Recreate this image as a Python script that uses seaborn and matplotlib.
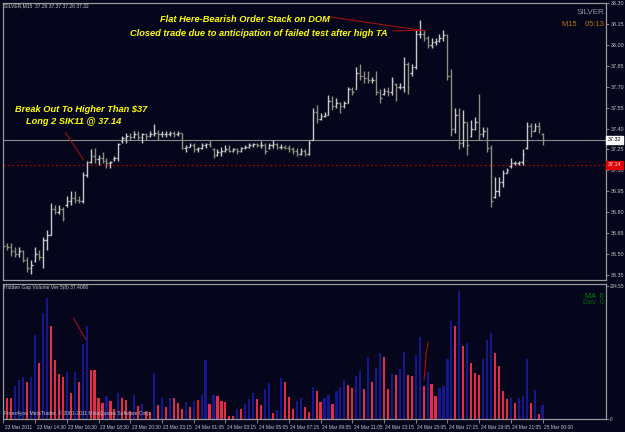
import matplotlib
matplotlib.use("Agg")
import matplotlib.pyplot as plt
import matplotlib.transforms as mtransforms
import numpy as np
import pandas as pd
import seaborn as sns

# ---------------- data ----------------
highs = [36.60,36.58,36.58,36.55,36.55,36.53,36.48,36.46,36.55,36.53,
         36.62,36.67,36.87,36.85,36.85,36.84,36.92,36.95,36.95,36.92,
         37.09,37.17,37.25,37.26,37.21,37.23,37.19,37.17,37.20,37.30,
         37.35,37.37,37.37,37.38,37.38,37.37,37.37,37.38,37.43,37.39,
         37.38,37.38,37.38,37.38,37.38,37.37,37.28,37.30,37.30,37.27,
         37.30,37.30,37.32,37.26,37.25,37.27,37.28,37.28,37.26,37.26,
         37.27,37.28,37.30,37.30,37.30,37.31,37.30,37.30,37.32,37.30,
         37.29,37.28,37.28,37.27,37.26,37.26,37.25,37.32,37.55,37.57,
         37.51,37.52,37.64,37.63,37.62,37.59,37.60,37.70,37.70,37.84,
         37.86,37.81,37.81,37.77,37.81,37.68,37.69,37.70,37.77,37.73,
         37.73,37.91,37.88,37.86,38.11,38.18,38.11,38.06,38.05,38.05,
         38.08,38.11,38.08,37.83,37.55,37.55,37.53,37.45,37.46,37.48,
         37.65,37.41,37.41,37.28,37.05,37.05,37.10,37.12,37.19,37.17,
         37.17,37.25,37.45,37.44,37.44,37.45,37.37]
lows = [36.55,36.53,36.49,36.48,36.48,36.44,36.37,36.36,36.44,36.46,
        36.40,36.53,36.64,36.79,36.79,36.74,36.84,36.85,36.87,36.87,
        36.87,37.05,37.15,37.15,37.14,37.15,37.12,37.12,37.17,37.17,
        37.30,37.30,37.32,37.33,37.32,37.30,37.32,37.34,37.35,37.32,
        37.34,37.34,37.35,37.34,37.35,37.25,37.23,37.27,37.23,37.23,
        37.25,37.26,37.27,37.19,37.20,37.20,37.23,37.23,37.23,37.22,
        37.23,37.25,37.26,37.27,37.27,37.26,37.22,37.25,37.26,37.25,
        37.25,37.25,37.23,37.22,37.20,37.21,37.20,37.21,37.32,37.44,
        37.46,37.48,37.50,37.53,37.55,37.51,37.55,37.58,37.64,37.68,
        37.75,37.73,37.73,37.73,37.64,37.58,37.64,37.63,37.64,37.60,
        37.68,37.66,37.65,37.78,37.83,38.05,38.03,37.98,37.98,38.00,
        38.02,38.03,37.75,37.35,37.37,37.25,37.27,37.21,37.34,37.39,
        37.32,37.34,37.23,36.84,36.90,36.92,36.98,37.08,37.12,37.14,
        37.14,37.14,37.25,37.34,37.38,37.37,37.28]
opens = [36.58,36.56,36.55,36.52,36.50,36.52,36.46,36.40,36.45,36.50,
         36.48,36.60,36.64,36.82,36.80,36.82,36.85,36.88,36.90,36.89,
         36.88,37.07,37.16,37.20,37.18,37.19,37.17,37.15,37.18,37.19,
         37.31,37.33,37.35,37.34,37.36,37.34,37.36,37.35,37.36,37.37,
         37.36,37.36,37.36,37.37,37.36,37.37,37.26,37.27,37.28,37.25,
         37.26,37.28,37.29,37.25,37.21,37.23,37.24,37.25,37.24,37.25,
         37.24,37.26,37.27,37.28,37.29,37.28,37.28,37.26,37.28,37.29,
         37.27,37.27,37.26,37.25,37.24,37.22,37.24,37.22,37.32,37.52,
         37.47,37.49,37.50,37.60,37.56,37.58,37.56,37.58,37.68,37.68,
         37.80,37.78,37.76,37.75,37.75,37.66,37.65,37.67,37.66,37.72,
         37.70,37.70,37.86,37.80,37.84,38.08,38.08,38.05,38.00,38.02,
         38.03,38.05,38.07,37.78,37.40,37.50,37.30,37.45,37.35,37.40,
         37.45,37.36,37.38,37.26,36.91,36.95,37.02,37.08,37.13,37.15,
         37.15,37.16,37.26,37.42,37.38,37.42,37.36]
closes = [36.56,36.55,36.52,36.50,36.52,36.46,36.40,36.42,36.50,36.48,
          36.60,36.64,36.82,36.80,36.82,36.76,36.88,36.90,36.89,36.88,
          37.07,37.16,37.20,37.18,37.19,37.17,37.15,37.16,37.19,37.29,
          37.33,37.35,37.34,37.36,37.34,37.36,37.35,37.36,37.37,37.36,
          37.36,37.36,37.37,37.36,37.37,37.26,37.27,37.28,37.25,37.26,
          37.28,37.29,37.28,37.21,37.23,37.24,37.25,37.24,37.25,37.24,
          37.26,37.27,37.28,37.29,37.28,37.28,37.24,37.28,37.29,37.27,
          37.27,37.26,37.25,37.24,37.22,37.24,37.22,37.30,37.52,37.47,
          37.49,37.50,37.60,37.56,37.58,37.56,37.58,37.68,37.66,37.80,
          37.78,37.76,37.75,37.75,37.66,37.62,37.67,37.66,37.74,37.70,
          37.70,37.86,37.70,37.84,38.08,38.08,38.05,38.00,38.02,38.03,
          38.05,38.07,37.78,37.40,37.50,37.30,37.45,37.28,37.40,37.45,
          37.36,37.38,37.26,36.88,36.95,37.02,37.08,37.10,37.15,37.15,
          37.16,37.22,37.42,37.38,37.42,37.40,37.32]
volumes = [34,32,32,51,60,65,57,65,129,86,
           163,186,143,91,69,65,73,40,73,57,
           116,143,75,75,32,24,35,28,16,40,
           32,29,13,37,20,23,13,11,70,22,
           33,18,33,33,24,16,26,18,28,29,
           37,91,23,37,35,28,26,5,5,16,
           15,23,30,40,31,22,46,55,9,14,
           63,57,34,15,27,33,19,11,49,43,
           26,32,37,23,43,49,60,52,48,66,
           74,46,95,57,78,102,95,46,69,68,
           77,103,68,66,98,126,51,72,54,35,
           48,51,92,151,143,197,112,117,86,71,
           68,92,122,132,102,82,43,31,32,25,
           32,35,92,25,45,8,22]
vol_side = list("BRRBBBRBBR" "BBRRRRBRBR" "BBRRRRBRRB" "RRRBRBRRBR"
                "BRBRRRBRBX" "BBRBRRRRRB" "RBBBRRBBRB" "BRRRBBRRBR"
                "RBBRBBBRRB" "BRBRBBRRBR" "BBRRBBRBRR" "BBBBRBRBRR"
                "RBBBRRRRBR" "BBBRBRB")
time_labels = ["23 Mar 2011", "23 Mar 14:30", "23 Mar 16:30", "23 Mar 18:30",
               "23 Mar 20:30", "23 Mar 23:15", "24 Mar 01:05", "24 Mar 03:15",
               "24 Mar 05:05", "24 Mar 07:15", "24 Mar 09:05", "24 Mar 11:05",
               "24 Mar 13:15", "24 Mar 15:05", "24 Mar 17:15", "24 Mar 19:05",
               "24 Mar 21:05", "25 Mar 00:00"]
price_ticks = [36.35, 36.50, 36.65, 36.80, 36.95, 37.10, 37.25, 37.40,
               37.55, 37.70, 37.85, 38.00, 38.15, 38.30]
bid_price = 37.32
entry_price = 37.14
vol_max_label = 204.55

# ---------------- styling ----------------
BG = "#05051c"
GRID = "#9a9a9a"
TXT = "#c8c8c8"
SMALL = ["Liberation Sans", "DejaVu Sans"]
W, H = 625, 432

plt.rcParams["font.family"] = SMALL
fig = plt.figure(figsize=(W / 100, H / 100), dpi=100, facecolor=BG)


def rect(l, t, r, b):
    return [l / W, 1 - b / H, (r - l) / W, (b - t) / H]


ax_p = fig.add_axes(rect(3, 3, 606, 280))
ax_v = fig.add_axes(rect(3, 284, 606, 419))

for ax in (ax_p, ax_v):
    ax.set_facecolor(BG)
    for s in ax.spines.values():
        s.set_color(GRID)
        s.set_linewidth(0.9)
    ax.set_xlim(-0.1, 152)

n = len(closes)
xs = np.arange(n)
df = pd.DataFrame({"x": xs, "open": opens, "high": highs, "low": lows,
                   "close": closes, "volume": volumes, "side": vol_side})

# ---------------- price panel (OHLC bars) ----------------
up = df["close"] >= df["open"]
bar_cols = np.where(up, "#c8c8c8", "#8e8e7c")
ax_p.vlines(df["x"], df["low"], df["high"], colors=bar_cols, lw=1.0)
ax_p.hlines(df["open"], df["x"] - 0.38, df["x"], colors=bar_cols, lw=1.0)
ax_p.hlines(df["close"], df["x"], df["x"] + 0.38, colors=bar_cols, lw=1.0)

ax_p.axhline(bid_price, color="#8a8a8a", lw=0.8, zorder=0)
ax_p.axhline(entry_price, color="#b00000", lw=0.9, ls=(0, (1.5, 2)), zorder=0)

ax_p.set_ylim(36.3145, 38.30)
ax_p.set_xticks([])
ax_p.yaxis.tick_right()
ax_p.set_yticks(price_ticks)
ax_p.set_yticklabels([f"{v:.2f}" for v in price_ticks])
ax_p.tick_params(axis="y", colors=GRID, labelcolor=TXT, labelsize=3.9,
                 length=2, width=0.6, pad=1.5)

yb = mtransforms.blended_transform_factory(ax_p.transAxes, ax_p.transData)
ax_p.text(1.003, bid_price, f"{bid_price:.2f}", transform=yb, fontsize=3.9,
          color="black", va="center", ha="left", zorder=5,
          bbox=dict(boxstyle="square,pad=0.25", fc="white", ec="white"))
ax_p.text(1.003, entry_price, f"{entry_price:.2f}", transform=yb, fontsize=3.9,
          color="white", va="center", ha="left", zorder=5,
          bbox=dict(boxstyle="square,pad=0.25", fc="#e00000", ec="#e00000"))

# annotation arrows (dark red)
ax_p.plot([82.4, 106.4], [38.20, 38.10], color="#a01010", lw=0.8)
ax_p.plot([98.3, 105.1], [38.10, 38.105], color="#a01010", lw=0.8)
ax_p.plot([15.7, 20.2], [37.37, 37.175], color="#a01010", lw=0.8)

# ---------------- volume panel ----------------
palette = {"B": "#16168e", "R": "#e42c48", "X": "#ff0a0a"}
sns.barplot(data=df, x="x", y="volume", hue="side", palette=palette,
            native_scale=True, dodge=False, width=0.55, saturation=1,
            errorbar=None, legend=False, linewidth=0, ax=ax_v)
ax_v.set_xlim(-0.1, 152)
ax_v.set_ylim(0, 207.6)
ax_v.set_xlabel("")
ax_v.set_ylabel("")
ax_v.yaxis.tick_right()
ax_v.set_yticks([0, vol_max_label])
ax_v.set_yticklabels(["0", f"{vol_max_label:.2f}"])
ax_v.tick_params(axis="y", colors=GRID, labelcolor=TXT, labelsize=3.4,
                 length=2, width=0.6, pad=1.0)
tick_pos = list(range(0, 8 * len(time_labels), 8))
ax_v.set_xticks(tick_pos)
ax_v.set_xticklabels(time_labels)
ax_v.tick_params(axis="x", colors=GRID, labelcolor=TXT, labelsize=3.5,
                 length=3, width=0.6, pad=1.5)
offset = mtransforms.ScaledTranslation(1.5 / 100, 0, fig.dpi_scale_trans)
for lab in ax_v.get_xticklabels():
    lab.set_horizontalalignment("left")
    lab.set_transform(lab.get_transform() + offset)

ax_v.plot([17.7, 20.7], [155, 123], color="#a01010", lw=0.8)
ax_v.plot([107.2, 106.6, 106.4, 106.1], [118, 100, 80, 60], color="#a01010", lw=0.8)

# ---------------- texts ----------------
def ftext(x, y, s, **kw):
    fig.text(x / W, 1 - y / H, s, va="center", **kw)

ann = dict(color="#ffff00", fontsize=6.65, fontweight="bold", fontstyle="italic",
           family=["Liberation Sans", "DejaVu Sans"])
ftext(160, 19, "Flat Here-Bearish Order Stack on DOM", **ann)
ftext(130, 34, "Closed trade due to anticipation of failed test after high TA", **ann)
ftext(15, 109, "Break Out To Higher Than $37", **ann)
ftext(26, 122, "Long 2 SIK11 @ 37.14", **ann)

ftext(4, 6, "SILVER,M15  37.26 37.37 37.26 37.32", color=TXT, fontsize=3.6)
ftext(4, 288, "Hidden Gap Volume Ver 5(8) 37.4080", color=TXT, fontsize=3.6)
ftext(4, 413, "Forex4you MetaTrader, \u00a9 2001-2011 MetaQuotes Software Corp.",
      color=TXT, fontsize=3.6)
ftext(604, 13, "SILVER", color="#8c9aa8", fontsize=5.8, ha="right")
ftext(604, 25, "M15    05:13", color="#b87800", fontsize=5.4, ha="right")
ftext(604, 296, "MA  0", color="#008a00", fontsize=5.2, ha="right")
ftext(604, 303, "Dev  0", color="#006a00", fontsize=5.2, ha="right")

fig.savefig("out.png", dpi=100, facecolor=BG)
